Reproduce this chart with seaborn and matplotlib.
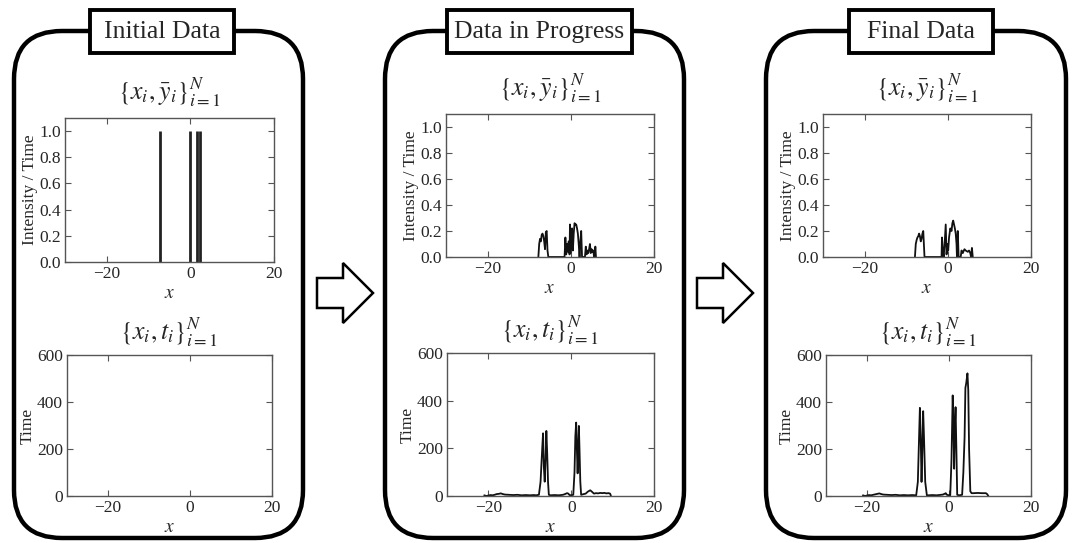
import numpy as np
import pandas as pd
import matplotlib
matplotlib.use("Agg")
import matplotlib.pyplot as plt
import seaborn as sns
from matplotlib.patches import FancyBboxPatch, Rectangle, Polygon

# ---------------- data ----------------
panel_titles = ["Initial Data", "Data in Progress", "Final Data"]
top_title = r"$\{x_i,\bar{y}_i\}_{i=1}^{N}$"
bottom_title = r"$\{x_i,t_i\}_{i=1}^{N}$"
x_ticks = [-20, 0, 20]
top_yticks = [0.0, 0.2, 0.4, 0.6, 0.8, 1.0]
bottom_yticks = [0, 200, 400, 600]

# Initial data: spikes of intensity 1
spike_x = [-7.3, -0.2, 1.5, 2.3]
spike_h = [1.0, 1.0, 1.0, 1.0]

# Data in progress: intensity profile
prog_int_x = [-7.8, -7.6, -7.4, -7.2, -7.0, -6.8, -6.6, -6.4, -6.2, -6.0, -5.8, -5.6, -5.4,
              -1.5, -1.3, -1.1, -0.9, -0.7, -0.5, -0.3, -0.2, -0.1, 0.1, 0.3, 0.5, 0.7, 0.9,
              1.1, 1.3, 1.5, 1.7, 1.9, 2.1, 2.3, 2.5, 2.7,
              3.4, 3.6, 3.8, 4.0, 4.2, 4.4, 4.6, 4.8, 5.0, 5.2, 5.4, 5.6, 5.8, 5.9, 6.05]
prog_int_y = [0.0, 0.10, 0.14, 0.12, 0.17, 0.18, 0.16, 0.12, 0.06, 0.19, 0.20, 0.05, 0.0,
              0.0, 0.15, 0.02, 0.10, 0.04, 0.12, 0.02, 0.25, 0.03, 0.08, 0.22, 0.05, 0.18, 0.26,
              0.25, 0.25, 0.22, 0.18, 0.10, 0.0, 0.12, 0.20, 0.0,
              0.0, 0.08, 0.02, 0.05, 0.03, 0.06, 0.10, 0.03, 0.06, 0.04, 0.05, 0.0, 0.03, 0.08, 0.0]

# Final data: intensity profile
fin_int_x = [-7.9, -7.7, -7.5, -7.3, -7.1, -6.9, -6.7, -6.5, -6.3, -6.1, -5.9, -5.6,
             -1.5, -1.4, -1.2, -1.0, -0.8, -0.5, -0.3, -0.1, 0.1, 0.3, 0.6, 0.9, 1.1, 1.3,
             1.5, 1.7, 1.9, 2.1, 2.2, 2.4, 2.6,
             3.1, 3.3, 3.6, 4.0, 4.3, 4.8, 5.1, 5.4, 5.6, 5.8, 6.0]
fin_int_y = [0.0, 0.10, 0.13, 0.15, 0.16, 0.18, 0.16, 0.12, 0.14, 0.18, 0.20, 0.0,
             0.0, 0.15, 0.05, 0.0, 0.08, 0.25, 0.02, 0.10, 0.05, 0.15, 0.22, 0.20, 0.26, 0.28,
             0.25, 0.22, 0.18, 0.10, 0.0, 0.20, 0.0,
             0.0, 0.05, 0.03, 0.06, 0.05, 0.04, 0.05, 0.03, 0.0, 0.07, 0.0]

# Data in progress: time profile
prog_t_x = [-21.0, -20.5, -20.0, -19.5, -19.0, -18.5, -18.0, -17.5, -17.0, -16.5, -16.0, -15.0,
            -14.0, -13.0, -12.0, -11.0, -10.0, -9.0, -8.5, -7.8, -7.4, -7.0, -6.8, -6.6, -6.4,
            -6.2, -6.0, -5.8, -5.6, -5.4, -5.0, -4.0, -3.0, -2.0, -1.5, -1.0, -0.7, -0.4, 0.0,
            0.5, 0.8, 1.0, 1.2, 1.4, 1.55, 1.7, 1.85, 2.0, 2.2, 2.4, 3.0, 3.5, 4.0, 4.6, 5.0,
            5.5, 6.0, 6.5, 7.0, 7.5, 8.0, 8.5, 9.0, 9.4, 9.6]
prog_t_y = [3, 0, 2, 4, 3, 5, 8, 9, 11, 8, 6, 5,
            4, 5, 3, 4, 3, 4, 3, 5, 60, 200, 263, 120, 60,
            150, 273, 180, 60, 5, 3, 4, 3, 5, 8, 12, 10, 4, 3,
            5, 100, 250, 308, 180, 95, 200, 294, 200, 60, 5, 8, 10, 18, 24, 18,
            10, 12, 11, 13, 12, 13, 11, 12, 10, 0]

# Final data: time profile
fin_t_x = [-21.0, -20.5, -20.0, -19.5, -19.0, -18.5, -18.0, -17.5, -17.0, -16.5, -16.0, -15.0,
           -14.0, -13.0, -12.0, -11.0, -10.0, -9.0, -8.0, -7.6, -7.3, -7.1, -6.9, -6.7, -6.5,
           -6.3, -6.1, -5.8, -5.4, -5.0, -4.0, -3.0, -2.0, -1.5, -1.0, -0.8, -0.5, 0.0,
           0.3, 0.6, 0.9, 1.1, 1.25, 1.45, 1.6, 1.8, 2.0, 2.5, 3.2, 3.5, 3.8, 4.0, 4.2, 4.5,
           4.7, 4.9, 5.2, 5.5, 6.0, 7.0, 8.0, 9.0, 9.3, 9.6]
fin_t_y = [3, 0, 2, 4, 3, 5, 7, 9, 11, 8, 6, 5,
           4, 5, 3, 4, 3, 4, 3, 60, 250, 375, 250, 60, 200,
           361, 250, 60, 3, 3, 4, 3, 5, 6, 10, 12, 5, 3,
           3, 150, 428, 300, 116, 300, 378, 200, 5, 3, 5, 100, 250, 460, 480, 522,
           450, 200, 20, 12, 12, 13, 12, 12, 8, 0]

# ---------------- style ----------------
sns.set_theme(style="ticks")
plt.rcParams['font.family'] = ['Liberation Serif', 'DejaVu Serif']
plt.rcParams['mathtext.fontset'] = 'stix'
plt.rcParams['axes.unicode_minus'] = True

W, H = 1077, 543
fig = plt.figure(figsize=(W / 100, H / 100), dpi=100)
fig.patch.set_facecolor('white')

# overlay in pixel coordinates for the schematic decorations
ov = fig.add_axes([0, 0, 1, 1], zorder=0)
ov.set_xlim(0, W)
ov.set_ylim(H, 0)
ov.axis('off')

panels = [(14, 303), (385, 684), (766, 1066)]
title_boxes = [(90, 234), (447, 632), (849, 993)]
for (l, r), (tl, tr), name in zip(panels, title_boxes, panel_titles):
    ov.add_patch(FancyBboxPatch((l, 31), r - l, 538 - 31,
                                boxstyle="round,pad=0,rounding_size=48",
                                fc='white', ec='black', lw=3.2))
    ov.add_patch(Rectangle((tl, 10), tr - tl, 43, fc='white', ec='black', lw=2.8, zorder=3))
    ov.text((tl + tr) / 2, 32, name, ha='center', va='center', fontsize=18.5, zorder=4)

for dx in [0, 380]:
    pts = [(317 + dx, 278), (343 + dx, 278), (343 + dx, 263), (373 + dx, 293),
           (343 + dx, 323), (343 + dx, 308), (317 + dx, 308)]
    ov.add_patch(Polygon(pts, closed=True, fc='white', ec='black', lw=1.8, joinstyle='miter'))


def px_rect(L, R, T, B):
    return [L / W, 1 - B / H, (R - L) / W, (B - T) / H]


def style_ax(ax, top):
    ax.set_xlim(-30, 20)
    ax.set_xticks(x_ticks)
    if top:
        ax.set_ylim(0, 1.1)
        ax.set_yticks(top_yticks)
        ax.set_yticklabels([f"{v:.1f}" for v in top_yticks])
        ax.set_ylabel("Intensity / Time", fontsize=12.5, labelpad=1)
        ax.set_title(top_title, fontsize=18.5, pad=13)
    else:
        ax.set_ylabel("Time", fontsize=12.5, labelpad=1)
        ax.set_ylim(0, 600)
        ax.set_yticks(bottom_yticks)
        ax.set_title(bottom_title, fontsize=18.5, pad=11)
    ax.set_xlabel("$x$", fontsize=14, labelpad=2)
    ax.tick_params(direction='in', top=True, right=True, length=4, width=0.8,
                   color='#555555', labelsize=12.5, pad=3)
    for s in ax.spines.values():
        s.set_visible(True)
        s.set_color('#555555')
        s.set_linewidth(1.0)
    ax.set_facecolor('white')


rects_top = [px_rect(65, 274, 118, 262), px_rect(446, 654, 114, 257), px_rect(823, 1031, 114, 257)]
rects_bot = [px_rect(67, 272, 355, 496), px_rect(447, 654, 353, 496), px_rect(826, 1031, 355, 496)]

axes_top = [fig.add_axes(r, zorder=2) for r in rects_top]
axes_bot = [fig.add_axes(r, zorder=2) for r in rects_bot]

line_kw = dict(color='#111111', linewidth=1.3, estimator=None, sort=False)

# panel 1
axes_top[0].vlines(spike_x, 0, spike_h, color='#222222', linewidth=2.0)

# panel 2
sns.lineplot(x=prog_int_x, y=prog_int_y, ax=axes_top[1], **line_kw)
sns.lineplot(x=prog_t_x, y=prog_t_y, ax=axes_bot[1], **line_kw)

# panel 3
sns.lineplot(x=fin_int_x, y=fin_int_y, ax=axes_top[2], **line_kw)
sns.lineplot(x=fin_t_x, y=fin_t_y, ax=axes_bot[2], **line_kw)

for ax in axes_top:
    style_ax(ax, True)
for ax in axes_bot:
    style_ax(ax, False)

fig.savefig("out.png", dpi=100)
